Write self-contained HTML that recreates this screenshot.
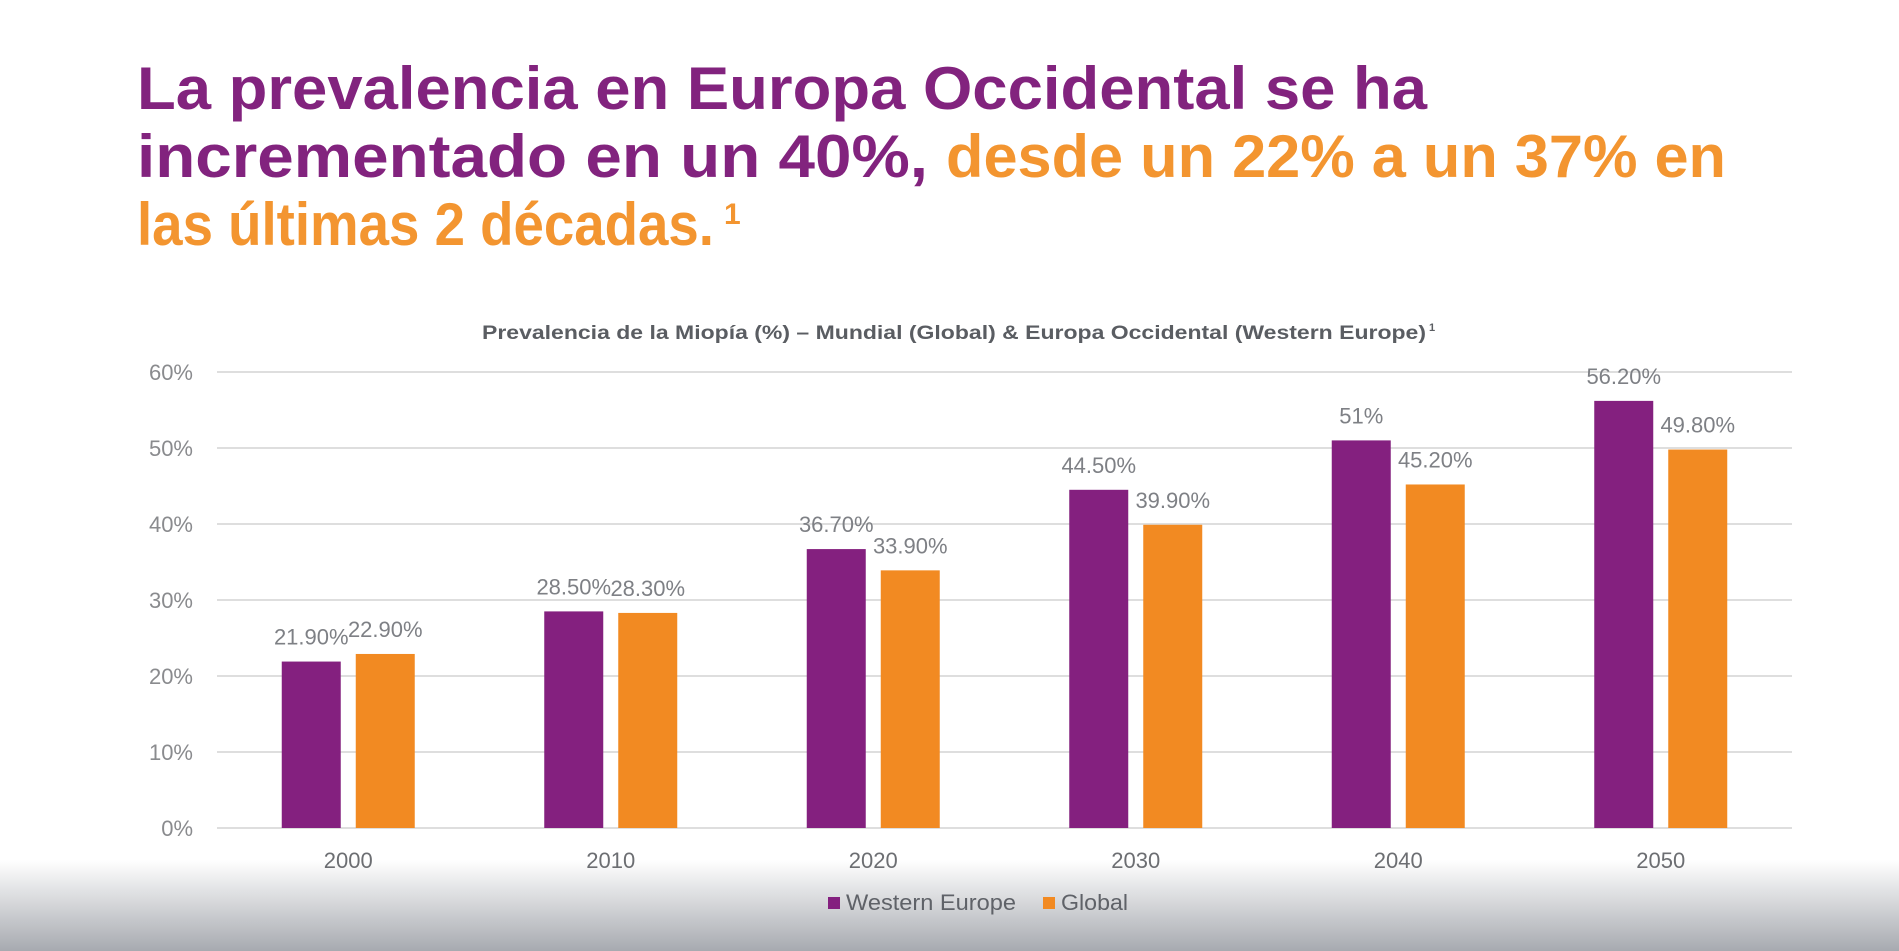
<!DOCTYPE html>
<html><head><meta charset="utf-8"><style>
html,body{margin:0;padding:0;width:1899px;height:951px;overflow:hidden;background:#fff}
svg{display:block}
text{font-family:"Liberation Sans",Arial,sans-serif}
</style></head><body>
<svg id="chart" width="1899" height="951" viewBox="0 0 1899 951">
<defs><linearGradient id="bg" x1="0" y1="0" x2="0" y2="1">
<stop offset="0" stop-color="#ffffff"/><stop offset="1" stop-color="#a7aab0"/></linearGradient></defs>
<rect x="0" y="860" width="1899" height="91" fill="url(#bg)"/>
<g font-weight="bold" font-size="60">
<text x="137" y="109" fill="#82237e" textLength="1290" lengthAdjust="spacingAndGlyphs">La prevalencia en Europa Occidental se ha</text>
<text x="137" y="177" fill="#82237e" textLength="791" lengthAdjust="spacingAndGlyphs">incrementado en un 40%,</text>
<text x="946" y="177" fill="#f39530" textLength="780" lengthAdjust="spacingAndGlyphs">desde un 22% a un 37% en</text>
<text x="137" y="245" fill="#f39530" textLength="577" lengthAdjust="spacingAndGlyphs">las últimas 2 décadas.</text>
<text x="724" y="224" fill="#f39530" font-size="30">1</text>
</g>
<g>
<text x="482" y="339" font-size="19" font-weight="bold" fill="#5a5d62" textLength="944" lengthAdjust="spacingAndGlyphs">Prevalencia de la Miopía (%)  – Mundial (Global) &amp; Europa Occidental (Western Europe)</text>
<text x="1429" y="331" font-size="11" font-weight="bold" fill="#5a5d62">1</text>
</g>
<g id="grid"></g><g id="bars"></g><g id="labels"></g>
<g>
<rect x="828" y="897" width="12" height="12" fill="#84207f"/>
<text x="846" y="910" font-size="22" fill="#5f6268" textLength="170" lengthAdjust="spacingAndGlyphs">Western Europe</text>
<rect x="1043" y="897" width="12" height="12" fill="#f28a22"/>
<text x="1061" y="910" font-size="22" fill="#5f6268" textLength="67" lengthAdjust="spacingAndGlyphs">Global</text>
</g>
</svg>
<script>
const categories = ["2000","2010","2020","2030","2040","2050"];
const westernEurope = [21.9, 28.5, 36.7, 44.5, 51, 56.2];
const globalValues = [22.9, 28.3, 33.9, 39.9, 45.2, 49.8];
const westernLabels = ["21.90%","28.50%","36.70%","44.50%","51%","56.20%"];
const globalLabels = ["22.90%","28.30%","33.90%","39.90%","45.20%","49.80%"];
const yTicks = [0,10,20,30,40,50,60];

const NS="http://www.w3.org/2000/svg";
const L=217,R=1792,Y0=828,YMAX=372,VMAX=60;
const y=v=>Y0-(v/VMAX)*(Y0-YMAX);
const bw=(R-L)/categories.length;
const xc=i=>L+bw*(i+0.5);
function mk(tag,attrs,parent){const e=document.createElementNS(NS,tag);for(const k in attrs)e.setAttribute(k,attrs[k]);parent.appendChild(e);return e;}
const grid=document.getElementById('grid'),bars=document.getElementById('bars'),labels=document.getElementById('labels');
yTicks.forEach(t=>{
  const l=mk('line',{x1:L,x2:R,y1:y(t),y2:y(t),stroke:'#dedede','stroke-width':2},grid);
  
  
  const tx=mk('text',{x:193,y:y(t)+8,'text-anchor':'end','font-size':22,fill:'#8a8b8e'},grid);
  tx.textContent=t+'%';
  
  
});
const W=59;
categories.forEach((c,i)=>{
  const cx=xc(i);
  const p=mk('rect',{x:cx-66.5,y:y(westernEurope[i]),width:W,height:Y0-y(westernEurope[i]),fill:'#84207f'},bars);
  
  
  const o=mk('rect',{x:cx+7.5,y:y(globalValues[i]),width:W,height:Y0-y(globalValues[i]),fill:'#f28a22'},bars);
  
  
  const t1=mk('text',{x:cx-37,y:y(westernEurope[i])-17,'text-anchor':'middle','font-size':22,fill:'#7e8085'},labels);
  t1.textContent=westernLabels[i];
  
  
  const t2=mk('text',{x:cx+37,y:y(globalValues[i])-17,'text-anchor':'middle','font-size':22,fill:'#7e8085'},labels);
  t2.textContent=globalLabels[i];
  
  
  const xl=mk('text',{x:cx,y:868,'text-anchor':'middle','font-size':22,fill:'#6c6e72'},labels);
  xl.textContent=c;
  
  
});
</script>
</body></html>
